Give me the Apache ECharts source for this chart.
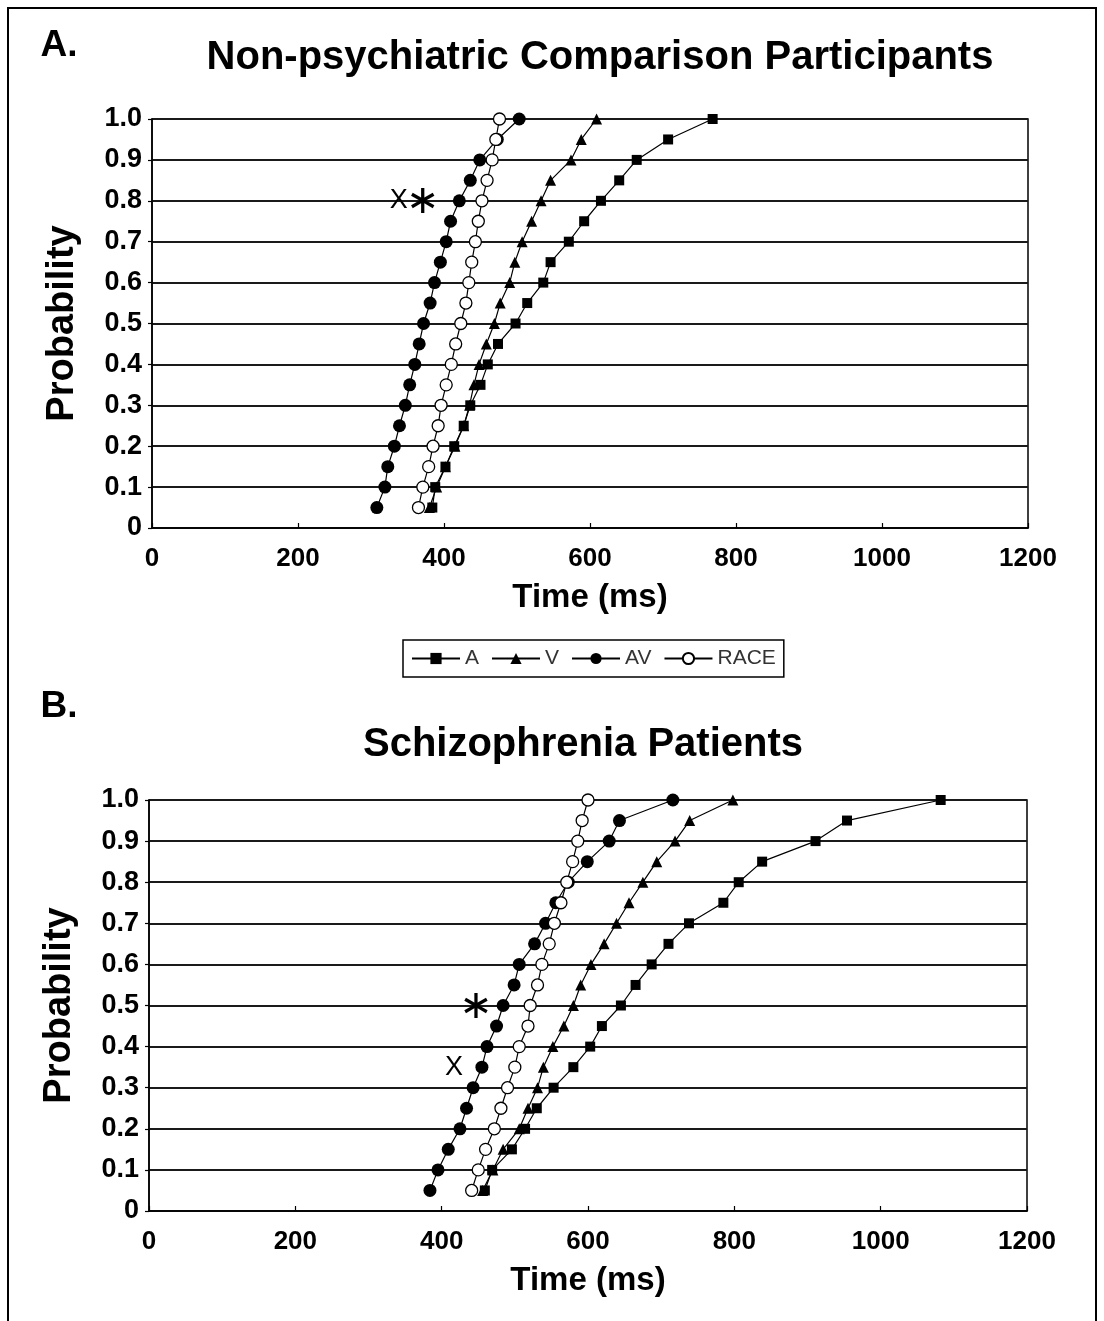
<!DOCTYPE html>
<html>
<head>
<meta charset="utf-8">
<script src="https://cdn.jsdelivr.net/npm/echarts@6/dist/echarts.min.js"></script>
<style>
html,body{margin:0;padding:0;background:#fff;}
#chart{width:1104px;height:1321px;}
</style>
</head>
<body>
<div id="chart"></div>
<script>
// Probability levels (quantiles)
const probs = [0.05, 0.10, 0.15, 0.20, 0.25, 0.30, 0.35, 0.40, 0.45, 0.50, 0.55, 0.60, 0.65, 0.70, 0.75, 0.80, 0.85, 0.90, 0.95, 1.00];
const yTicks = ['0', '0.1', '0.2', '0.3', '0.4', '0.5', '0.6', '0.7', '0.8', '0.9', '1.0'];
const xTicks = [0, 200, 400, 600, 800, 1000, 1200];
const seriesNames = ['A', 'V', 'AV', 'RACE'];

// Panel A: Non-psychiatric comparison participants (ms)
const ctrlA    = [384, 388, 402, 414, 427, 436, 450, 460, 474, 498, 514, 536, 546, 571, 592, 615, 640, 664, 707, 768];
const ctrlV    = [380, 390, 402, 415, 427, 435, 441, 448, 458, 469, 477, 490, 497, 507, 520, 533, 546, 574, 588, 609];
const ctrlAV   = [308, 319, 323, 332, 339, 347, 353, 360, 366, 372, 381, 387, 395, 403, 409, 421, 436, 449, 473, 503];
const ctrlRACE = [365, 371, 379, 385, 392, 396, 403, 410, 416, 423, 430, 434, 438, 443, 447, 452, 459, 466, 471, 476];

// Panel B: Schizophrenia patients (ms)
const scA    = [459, 469, 496, 514, 530, 553, 580, 603, 619, 645, 665, 687, 710, 738, 785, 806, 838, 911, 954, 1082];
const scV    = [456, 470, 484, 506, 518, 531, 539, 552, 567, 580, 590, 604, 622, 639, 656, 675, 694, 719, 739, 798];
const scAV   = [384, 395, 409, 425, 434, 443, 455, 462, 475, 484, 499, 506, 527, 542, 556, 573, 599, 629, 643, 716];
const scRACE = [441, 450, 460, 472, 481, 490, 500, 506, 518, 521, 531, 537, 547, 554, 563, 571, 579, 586, 592, 600];

// Annotation marks [time, probability, text]
const notesA = [[338, 0.8, 'X'], [371, 0.8, '*']];
const notesB = [[447, 0.5, '*'], [417, 0.35, 'X']];

const FONT = '"Liberation Sans", Arial, Helvetica, sans-serif';
const chart = echarts.init(document.getElementById('chart'), null, {renderer: 'canvas'});

function pairs(xs) { return xs.map((x, i) => [x, probs[i]]); }

const symbols = {A: 'rect', V: 'triangle', AV: 'circle', RACE: 'circle'};
const symSize = {A: 10, V: 11, AV: 13, RACE: 12};

function makeSeries(name, xs, idx) {
  const hollow = name === 'RACE';
  return {
    name: name, type: 'line', xAxisIndex: idx, yAxisIndex: idx,
    data: pairs(xs),
    symbol: symbols[name], symbolSize: symSize[name], showSymbol: true,
    lineStyle: {color: '#000', width: 1.2},
    itemStyle: {color: hollow ? '#fff' : '#000', borderColor: '#000', borderWidth: hollow ? 1.3 : 0},
    z: hollow ? 5 : 3, animation: false
  };
}

function noteSeries(notes, idx) {
  return {
    type: 'scatter', xAxisIndex: idx, yAxisIndex: idx,
    data: notes.map(d => ({
      value: d,
      label: d[2] === '*'
        ? {fontSize: 40, fontWeight: 'normal', fontFamily: '"DejaVu Sans", sans-serif', color: '#000', offset: [0, 2]}
        : {fontSize: 27, fontWeight: 'normal', fontFamily: FONT, color: '#000', offset: [0, 0]}
    })),
    symbolSize: 1, itemStyle: {color: 'rgba(0,0,0,0)', opacity: 1},
    label: {
      show: true, position: 'inside', color: '#000', opacity: 1, textBorderWidth: 0,
      formatter: p => (p.value[2] === '*' ? '\u2217' : p.value[2])
    },
    emphasis: {disabled: true},
    silent: true, z: 6, animation: false
  };
}

function xAxis(idx) {
  return {
    type: 'value', gridIndex: idx, min: 0, max: 1200, interval: 200,
    name: 'Time (ms)', nameLocation: 'middle', nameGap: 53,
    nameTextStyle: {fontFamily: FONT, fontWeight: 'bold', fontSize: 33, color: '#000'},
    axisLine: {show: true, lineStyle: {color: '#000', width: 1.5}},
    axisTick: {show: true, inside: true, length: 5, lineStyle: {color: '#000', width: 1.2}},
    axisLabel: {fontFamily: FONT, fontWeight: 'bold', fontSize: 26, color: '#000', margin: 18,
                formatter: v => String(xTicks[xTicks.indexOf(v)])},
    splitLine: {show: false}
  };
}
function yAxis(idx) {
  return {
    type: 'value', gridIndex: idx, min: 0, max: 1, interval: 0.1,
    name: 'Probability', nameLocation: 'middle', nameGap: 70, nameRotate: 90,
    nameTextStyle: {fontFamily: FONT, fontWeight: 'bold', fontSize: 38, color: '#000'},
    axisLine: {show: true, lineStyle: {color: '#000', width: 1.5}},
    axisTick: {show: true, inside: false, length: 4, lineStyle: {color: '#000', width: 1.2}},
    axisLabel: {fontFamily: FONT, fontWeight: 'bold', fontSize: 27, color: '#000', margin: 10,
                formatter: v => yTicks[Math.round(v * 10)]},
    splitLine: {show: true, lineStyle: {color: '#1a1a1a', width: 1.8}}
  };
}

const option = {
  backgroundColor: '#fff',
  animation: false,
  grid: [
    {left: 152, top: 119, width: 876, height: 409, show: true, borderColor: '#000', borderWidth: 1.5, backgroundColor: 'transparent'},
    {left: 149, top: 800, width: 878, height: 411, show: true, borderColor: '#000', borderWidth: 1.5, backgroundColor: 'transparent'}
  ],
  xAxis: [xAxis(0), xAxis(1)],
  yAxis: [yAxis(0), yAxis(1)],
  legend: {
    data: seriesNames,
    left: 403, top: 640,
    orient: 'horizontal',
    itemWidth: 48, itemHeight: 14, itemGap: 12,
    padding: [8, 8, 8, 8],
    borderColor: '#000', borderWidth: 1.5,
    textStyle: {fontFamily: FONT, fontSize: 21, color: '#333'},
    selectedMode: false
  },
  series: [
    makeSeries('A', ctrlA, 0), makeSeries('V', ctrlV, 0), makeSeries('AV', ctrlAV, 0), makeSeries('RACE', ctrlRACE, 0),
    makeSeries('A', scA, 1), makeSeries('V', scV, 1), makeSeries('AV', scAV, 1), makeSeries('RACE', scRACE, 1),
    noteSeries(notesA, 0), noteSeries(notesB, 1)
  ],
  graphic: [
    {type: 'rect', shape: {x: 8, y: 8, width: 1088, height: 1330}, style: {fill: 'none', stroke: '#000', lineWidth: 2}, silent: true, z: 100},
    {type: 'text', x: 59, y: 46, style: {text: 'A.', font: 'bold 37px ' + FONT, fill: '#000', textAlign: 'center', textVerticalAlign: 'middle'}},
    {type: 'text', x: 600, y: 58, style: {text: 'Non-psychiatric Comparison Participants', font: 'bold 40px ' + FONT, fill: '#000', textAlign: 'center', textVerticalAlign: 'middle'}},
    {type: 'text', x: 59, y: 707, style: {text: 'B.', font: 'bold 37px ' + FONT, fill: '#000', textAlign: 'center', textVerticalAlign: 'middle'}},
    {type: 'text', x: 583, y: 745, style: {text: 'Schizophrenia Patients', font: 'bold 40px ' + FONT, fill: '#000', textAlign: 'center', textVerticalAlign: 'middle'}}
  ]
};

chart.setOption(option);
</script>
</body>
</html>
